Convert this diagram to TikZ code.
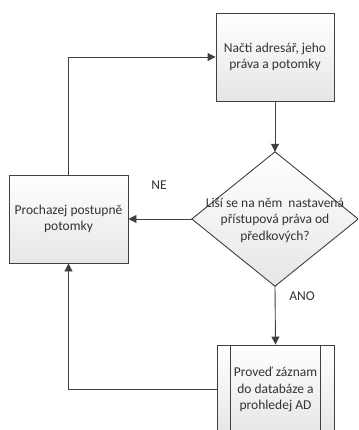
\documentclass[tikz,border=0pt]{standalone}
\usepackage{fontspec}
\setmainfont{Carlito}
\usetikzlibrary{arrows.meta,calc}
\definecolor{lineC}{HTML}{404040}
\definecolor{textC}{HTML}{333333}
\definecolor{fillTop}{HTML}{FFFFFF}
\definecolor{fillBot}{HTML}{E6E6E6}
\tikzset{
  flowbox/.style={draw=lineC, line width=0.9pt, top color=fillTop, bottom color=fillBot,
    minimum width=118pt, minimum height=88pt, inner sep=2pt, align=center,
    text=textC, font=\fontsize{13.5}{16.5}\selectfont},
  decision/.style={minimum width=166pt, minimum height=134pt, inner sep=0pt, align=center,
    text=textC, font=\fontsize{13.5}{16.5}\selectfont},
  decisionshape/.style={draw=lineC, line width=0.9pt, top color=fillTop, bottom color=fillBot},
  flowarrow/.style={draw=lineC, line width=0.9pt, -{Triangle[length=8pt,width=8pt]}},
  flowlabel/.style={text=textC, font=\fontsize{13.5}{16}\selectfont}
}
\begin{document}
\begin{tikzpicture}[x=1pt,y=-1pt]
\useasboundingbox (0,0) rectangle (358,430);
\clip (0,0) rectangle (358,430);
\fill[white] (0,0) rectangle (358,430);

% process steps
\node[flowbox] (read) at (275,57) {Načti adresář, jeho\\práva a potomky};
\node[flowbox, minimum width=119pt] (walk) at (68.5,219) {Prochazej postupně\\potomky};
\node[flowbox, minimum width=117pt, minimum height=89pt] (store) at (275.5,389.5)
  {Proveď záznam\\do databáze a\\prohledej AD};
% predefined-process side bars
\draw[lineC, line width=0.9pt]
  ($(store.north west)+(14,0)$) -- ($(store.south west)+(14,0)$)
  ($(store.north east)+(-14,0)$) -- ($(store.south east)+(-14,0)$);

% decision: diamond drawn through the side midpoints of its frame
\path[decision] (275,219) node[decision] (frame) {};
\path[decisionshape] (frame.north) -- (frame.east) -- (frame.south) -- (frame.west) -- cycle;
\node[decision] (check) at (275,220) {Liší se na něm\ \ nastavená\\přístupová práva od\\předkových?};

% connectors
\draw[flowarrow] (read.south) -- (frame.north);
\draw[flowarrow] (frame.west) -- (walk.east);
\draw[flowarrow] (frame.south) -- (store.north);
\draw[flowarrow] (walk.north) |- (read.west);
\draw[flowarrow] (store.west) -| (walk.south);

% branch labels
\node[flowlabel] (no) at (159,185) {NE};
\node[flowlabel] (yes) at (302,296) {ANO};
\end{tikzpicture}
\end{document}
